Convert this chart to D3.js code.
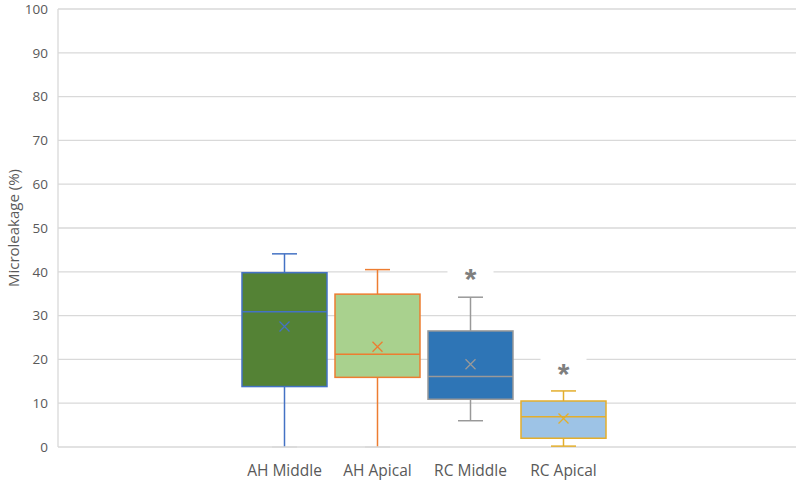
<!DOCTYPE html>
<meta charset="utf-8">
<style>

body {
  margin: 0;
  background: #fff;
}

.grid line {
  stroke: #d9d9d9;
  stroke-width: 1.3;
}

.tick-label {
  font: 13.5px "Open Sans", sans-serif;
  fill: #595959;
}

.cat-label {
  font: 15.5px "Open Sans", sans-serif;
  fill: #595959;
  text-anchor: middle;
}

.y-title {
  font: 15px "Open Sans", sans-serif;
  fill: #595959;
  text-anchor: middle;
}

.star {
  font: bold 30px "Liberation Sans", sans-serif;
  fill: #7f7f7f;
  text-anchor: middle;
}

</style>
<svg width="800" height="482"></svg>
<script src="https://cdn.jsdelivr.net/npm/d3@7"></script>
<script>

// values
var categories = ["AH Middle", "AH Apical", "RC Middle", "RC Apical"];
var whiskerLow = [0, 0, 6.0, 0.2];
var q1 = [13.8, 15.9, 10.9, 2.0];
var median = [30.9, 21.2, 16.1, 6.9];
var q3 = [39.8, 34.9, 26.5, 10.5];
var whiskerHigh = [44.1, 40.5, 34.2, 12.8];
var mean = [27.5, 22.9, 18.9, 6.5];
var marks = ["", "", "*", "*"];
var markAt = [null, null, 39.5, 17.8];
var yTicks = d3.range(0, 101, 10);

var fills = ["#548235", "#a9d18e", "#2e75b6", "#9dc3e6"],
    strokes = ["#4472c4", "#ed7d31", "#999999", "#e3ae2c"];

var svg = d3.select("svg");

var width = +svg.attr("width"),
    height = +svg.attr("height");

var plotLeft = 58, plotRight = 796, plotTop = 9, plotBottom = 447;

var y = d3.scaleLinear()
    .domain([0, 100])
    .range([plotBottom, plotTop]);

var x = d3.scaleBand()
    .domain(categories)
    .range([238, 610])
    .paddingInner(0.086)
    .paddingOuter(0.043);

// gridlines
svg.append("g")
    .attr("class", "grid")
  .selectAll("line")
  .data(yTicks)
  .enter().append("line")
    .attr("x1", plotLeft)
    .attr("x2", plotRight)
    .attr("y1", function(d) { return y(d); })
    .attr("y2", function(d) { return y(d); });

svg.append("line")
    .attr("x1", plotLeft)
    .attr("x2", plotLeft)
    .attr("y1", plotTop)
    .attr("y2", plotBottom)
    .attr("stroke", "#d9d9d9")
    .attr("stroke-width", 1.3);

svg.append("g")
  .selectAll("text")
  .data(yTicks)
  .enter().append("text")
    .attr("class", "tick-label")
    .attr("x", plotLeft - 10)
    .attr("y", function(d) { return y(d); })
    .attr("dy", "0.35em")
    .attr("text-anchor", "end")
    .text(function(d) { return d; });

svg.append("text")
    .attr("class", "y-title")
    .attr("transform", "translate(19," + ((plotTop + plotBottom) / 2) + ") rotate(-90)")
    .text("Microleakage (%)");

var data = categories.map(function(c, i) {
  return {
    name: c,
    lo: whiskerLow[i], q1: q1[i], med: median[i], q3: q3[i], hi: whiskerHigh[i],
    mean: mean[i], mark: marks[i], markAt: markAt[i],
    fill: fills[i], stroke: strokes[i]
  };
});

var bw = x.bandwidth(),
    cap = 25;

var box = svg.append("g")
  .selectAll("g")
  .data(data)
  .enter().append("g")
    .attr("transform", function(d) { return "translate(" + x(d.name) + ",0)"; });

// whiskers
box.append("line")
    .attr("x1", bw / 2).attr("x2", bw / 2)
    .attr("y1", function(d) { return y(d.hi); })
    .attr("y2", function(d) { return y(d.q3); })
    .attr("stroke", function(d) { return d.stroke; })
    .attr("stroke-width", 1.5);

box.append("line")
    .attr("x1", bw / 2).attr("x2", bw / 2)
    .attr("y1", function(d) { return y(d.q1); })
    .attr("y2", function(d) { return y(d.lo); })
    .attr("stroke", function(d) { return d.stroke; })
    .attr("stroke-width", 1.5);

box.selectAll(".cap")
    .data(function(d) { return [d.hi, d.lo].map(function(v) { return {v: v, d: d}; }); })
  .enter().append("line")
    .attr("class", "cap")
    .attr("x1", bw / 2 - cap / 2).attr("x2", bw / 2 + cap / 2)
    .attr("y1", function(e) { return y(e.v); })
    .attr("y2", function(e) { return y(e.v); })
    .attr("stroke", function(e) { return e.v === 0 ? "#d9d9d9" : e.d.stroke; })
    .attr("stroke-width", 1.5);

box.append("rect")
    .attr("x", 0)
    .attr("width", bw)
    .attr("y", function(d) { return y(d.q3); })
    .attr("height", function(d) { return y(d.q1) - y(d.q3); })
    .attr("fill", function(d) { return d.fill; })
    .attr("stroke", function(d) { return d.stroke; })
    .attr("stroke-width", 1.5);

box.append("line")
    .attr("x1", 0).attr("x2", bw)
    .attr("y1", function(d) { return y(d.med); })
    .attr("y2", function(d) { return y(d.med); })
    .attr("stroke", function(d) { return d.stroke; })
    .attr("stroke-width", 1.5);

// mean markers
box.append("path")
    .attr("d", function(d) {
      var cx = bw / 2, cy = y(d.mean), s = 5;
      return "M" + (cx - s) + "," + (cy - s) + "L" + (cx + s) + "," + (cy + s) +
             "M" + (cx - s) + "," + (cy + s) + "L" + (cx + s) + "," + (cy - s);
    })
    .attr("stroke", function(d) { return d.stroke; })
    .attr("stroke-width", 1.3)
    .attr("fill", "none");

// significance marks with white backing
var sig = box.filter(function(d) { return d.mark; });

sig.append("rect")
    .attr("x", bw / 2 - 23)
    .attr("width", 46)
    .attr("y", function(d) { return y(d.markAt) - 12; })
    .attr("height", 24)
    .attr("fill", "#fff");

sig.append("text")
    .attr("class", "star")
    .attr("x", bw / 2)
    .attr("y", function(d) { return y(d.markAt); })
    .attr("dy", "0.5em")
    .text(function(d) { return d.mark; });

// category labels
svg.append("g")
  .selectAll("text")
  .data(categories)
  .enter().append("text")
    .attr("class", "cat-label")
    .attr("x", function(d) { return x(d) + bw / 2; })
    .attr("y", 476)
    .text(function(d) { return d; });

</script>
